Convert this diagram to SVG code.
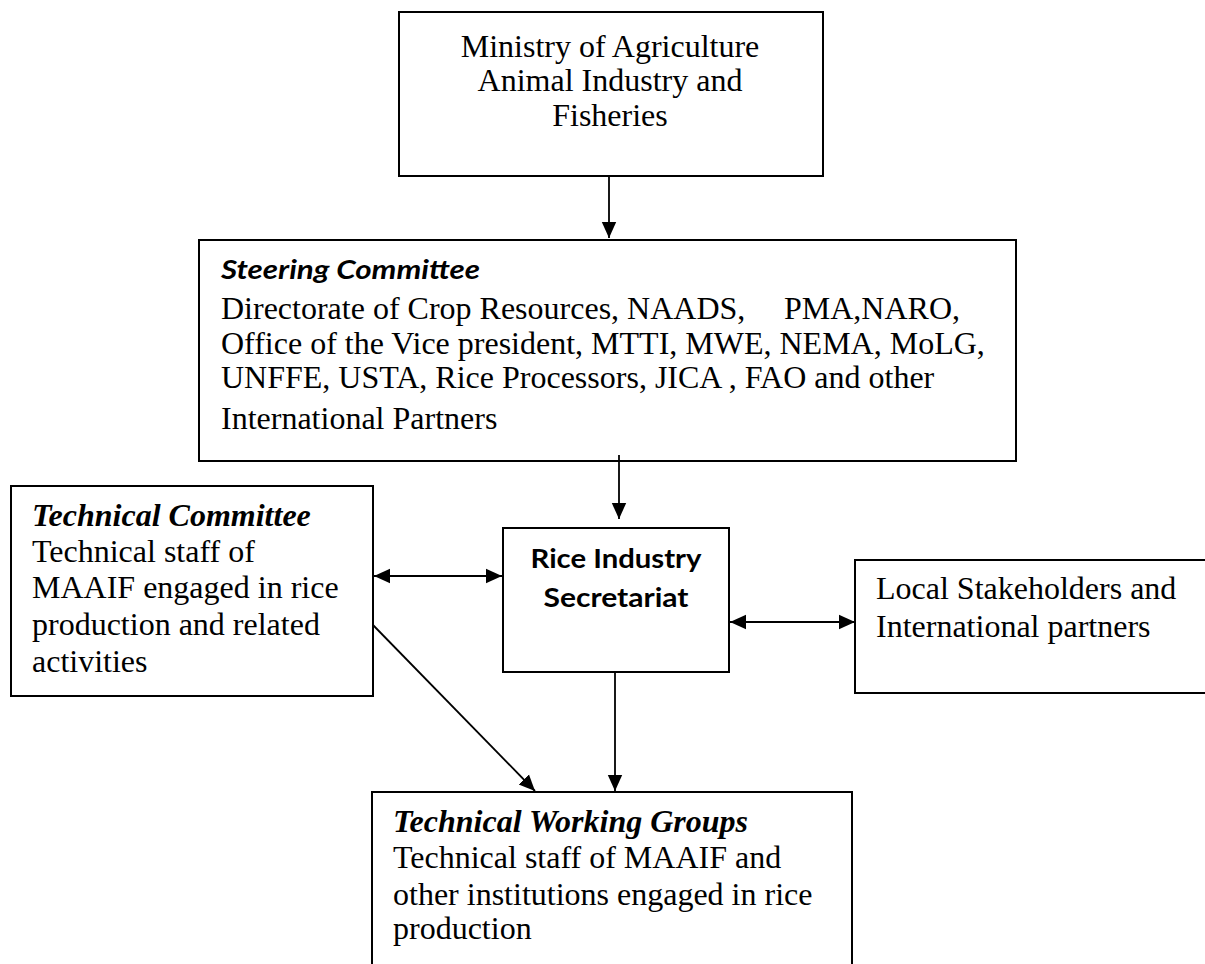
<svg xmlns="http://www.w3.org/2000/svg" width="1205" height="964" viewBox="0 0 1205 964">
  <style>
    .box { fill: #ffffff; stroke: #000000; stroke-width: 2; }
    .t { font-family: "Liberation Serif", "Times New Roman", serif; font-size: 32px; fill: #000000; }
    .tbi { font-family: "Liberation Serif", "Times New Roman", serif; font-size: 32px; font-weight: bold; font-style: italic; fill: #000000; }
    .cb { font-family: Lato, "Open Sans", sans-serif; font-size: 27px; font-weight: bold; fill: #000000; }
    .cbi { font-family: Lato, "Open Sans", sans-serif; font-size: 27px; font-weight: bold; font-style: italic; fill: #000000; }
    .line { stroke: #000000; stroke-width: 1.8; fill: none; }
  </style>
  <defs>
    <marker id="arr" viewBox="0 0 10 10" refX="10" refY="5" markerUnits="userSpaceOnUse" markerWidth="16" markerHeight="16" orient="auto-start-reverse">
      <path d="M0,0.5 L10,5 L0,9.5 Z" fill="#000000"/>
    </marker>
  </defs>
  <rect width="1205" height="964" fill="#ffffff"/>

  <g id="ministry">
    <rect class="box" x="399" y="12" width="424" height="164"/>
    <text class="t" x="610" y="57" text-anchor="middle">Ministry of Agriculture</text>
    <text class="t" x="610" y="91" text-anchor="middle">Animal Industry and</text>
    <text class="t" x="610" y="126" text-anchor="middle">Fisheries</text>
  </g>

  <g id="steering">
    <rect class="box" x="199" y="240" width="817" height="221"/>
    <text class="cbi" x="221" y="279" textLength="259" lengthAdjust="spacingAndGlyphs">Steering Committee</text>
    <text class="t" x="221" y="319">Directorate of Crop Resources, NAADS,<tspan x="784">PMA,NARO,</tspan></text>
    <text class="t" x="221" y="354">Office of the Vice president, MTTI, MWE, NEMA, MoLG,</text>
    <text class="t" x="221" y="388">UNFFE, USTA, Rice Processors, JICA , FAO and other</text>
    <text class="t" x="221" y="429">International Partners</text>
  </g>

  <g id="technical-committee">
    <rect class="box" x="11" y="486" width="362" height="210"/>
    <text class="tbi" x="32" y="526">Technical Committee</text>
    <text class="t" x="32" y="562">Technical staff of</text>
    <text class="t" x="32" y="598">MAAIF engaged in rice</text>
    <text class="t" x="32" y="635">production and related</text>
    <text class="t" x="32" y="672">activities</text>
  </g>

  <g id="secretariat">
    <rect class="box" x="503" y="528" width="226" height="144"/>
    <text class="cb" x="616" y="568" text-anchor="middle" textLength="171" lengthAdjust="spacingAndGlyphs">Rice Industry</text>
    <text class="cb" x="616" y="607" text-anchor="middle" textLength="145" lengthAdjust="spacingAndGlyphs">Secretariat</text>
  </g>

  <g id="local-stakeholders">
    <rect class="box" x="855" y="560" width="360" height="133"/>
    <text class="t" x="876" y="599">Local Stakeholders and</text>
    <text class="t" x="876" y="637">International partners</text>
  </g>

  <g id="working-groups">
    <rect class="box" x="372" y="792" width="480" height="190"/>
    <text class="tbi" x="393" y="832">Technical Working Groups</text>
    <text class="t" x="393" y="868">Technical staff of MAAIF and</text>
    <text class="t" x="393" y="905">other institutions engaged in rice</text>
    <text class="t" x="393" y="939">production</text>
  </g>

  <g id="connectors">
    <line class="line" x1="609" y1="176" x2="609" y2="238" marker-end="url(#arr)"/>
    <line class="line" x1="619" y1="455" x2="619" y2="519" marker-end="url(#arr)"/>
    <line class="line" x1="374" y1="576" x2="502" y2="576" marker-start="url(#arr)" marker-end="url(#arr)"/>
    <line class="line" x1="730" y1="622" x2="855" y2="622" marker-start="url(#arr)" marker-end="url(#arr)"/>
    <line class="line" x1="615" y1="672" x2="615" y2="791" marker-end="url(#arr)"/>
    <line class="line" x1="373" y1="625" x2="535" y2="791" marker-end="url(#arr)"/>
  </g>
</svg>
